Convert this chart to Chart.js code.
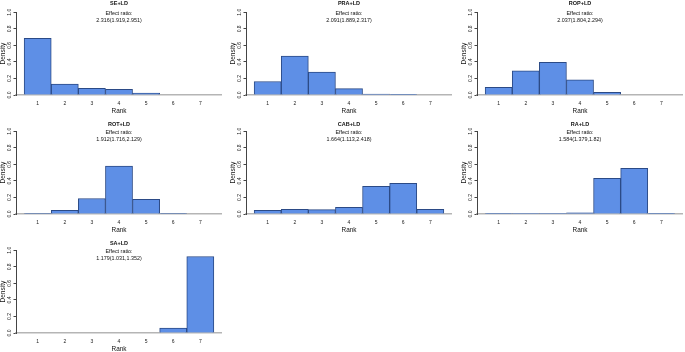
<!DOCTYPE html>
<html>
<head>
<meta charset="utf-8">
<script src="https://cdn.jsdelivr.net/npm/chart.js@4.4.1/dist/chart.umd.min.js"></script>
<style>
  html, body { margin: 0; padding: 0; background: #fff; }
  body { width: 685px; height: 352px; overflow: hidden; position: relative; }
  canvas { position: absolute; }
</style>
</head>
<body>
<script>
// ranks on the x axis and y tick values
const ranks = [1, 2, 3, 4, 5, 6, 7];
const densityTicks = [0, 0.2, 0.4, 0.6, 0.8, 1.0];

const panelNames = ['SE+LD', 'PRA+LD', 'ROP+LD', 'ROT+LD', 'CAB+LD', 'RA+LD', 'SA+LD'];
const effectRatios = [
    '2.316(1.919,2.951)',
    '2.091(1.889,2.317)',
    '2.037(1.804,2.294)',
    '1.912(1.716,2.129)',
    '1.664(1.113,2.418)',
    '1.584(1.379,1.82)',
    '1.179(1.031,1.352)'
];

// density of each rank
const seDensity  = [0.685, 0.133, 0.081, 0.069, 0.024, 0, 0];
const praDensity = [0.163, 0.470, 0.276, 0.077, 0.012, 0.002, 0];
const ropDensity = [0.094, 0.291, 0.396, 0.182, 0.032, 0, 0];
const rotDensity = [0.007, 0.043, 0.187, 0.578, 0.178, 0.007, 0];
const cabDensity = [0.045, 0.057, 0.053, 0.081, 0.336, 0.372, 0.057];
const raDensity  = [0.002, 0.001, 0.001, 0.014, 0.430, 0.552, 0.002];
const saDensity  = [0, 0, 0, 0, 0, 0.058, 0.925];

const allDensity = [seDensity, praDensity, ropDensity, rotDensity, cabDensity, raDensity, saDensity];

const colLeft = [0, 230, 461];
const rowTop = [0, 119, 238];
const font = '"Liberation Sans", Arial, sans-serif';

const effectText = {
    id: 'effectText',
    afterDraw(chart, args, opts) {
        const { ctx, chartArea } = chart;
        const cx = (chartArea.left + chartArea.right) / 2;
        ctx.save();
        ctx.fillStyle = '#111';
        ctx.textAlign = 'center';
        ctx.textBaseline = 'middle';
        ctx.font = '5.4px ' + font;
        ctx.fillText('Effect ratio:', cx, chartArea.top + 1.6);
        ctx.fillText(opts.value, cx, chartArea.top + 8.4);
        ctx.restore();
    }
};

panelNames.forEach((name, i) => {
    const row = Math.floor(i / 3);
    const col = i % 3;
    const canvas = document.createElement('canvas');
    canvas.width = 222;
    canvas.height = 119;
    canvas.style.left = colLeft[col] + 'px';
    canvas.style.top = rowTop[row] + 'px';
    document.body.appendChild(canvas);

    const titleTop = row === 0 ? 0.6 : 2.9;

    new Chart(canvas.getContext('2d'), {
        type: 'bar',
        data: {
            datasets: [{
                data: ranks.map((r, k) => ({ x: r, y: allDensity[i][k] })),
                backgroundColor: '#5e8fe6',
                borderColor: '#2b4a86',
                borderWidth: 1,
                barPercentage: 1,
                categoryPercentage: 1
            }]
        },
        options: {
            responsive: false,
            animation: false,
            layout: { padding: 0 },
            plugins: {
                legend: { display: false },
                tooltip: { enabled: false },
                title: {
                    display: true,
                    text: name,
                    fullSize: false,
                    color: '#111',
                    font: { family: font, size: 5.5, weight: 'bold', lineHeight: 1 },
                    padding: { top: titleTop, bottom: 12.3 - 5.5 - titleTop }
                },
                effectText: { value: effectRatios[i] }
            },
            scales: {
                x: {
                    type: 'linear',
                    offset: false,
                    min: 0.2,
                    max: 7.8,
                    afterBuildTicks: s => { s.ticks = ranks.map(v => ({ value: v })); },
                    afterFit: s => { s.height = 24; },
                    grid: { display: false, drawTicks: false },
                    border: { display: true, color: '#b5b5b5', width: 1.5 },
                    ticks: {
                        color: '#222',
                        padding: 6,
                        font: { family: font, size: 5 }
                    },
                    title: {
                        display: true,
                        text: 'Rank',
                        color: '#111',
                        font: { family: font, size: 6.4, lineHeight: 1 },
                        padding: { top: 0, bottom: 5 }
                    }
                },
                y: {
                    min: 0,
                    max: 1,
                    afterBuildTicks: s => { s.ticks = densityTicks.map(v => ({ value: v })); },
                    afterFit: s => { s.width = 16; },
                    grid: {
                        display: true,
                        drawOnChartArea: false,
                        drawTicks: true,
                        tickLength: 2.5,
                        color: '#444'
                    },
                    border: { display: true, color: '#444', width: 1 },
                    ticks: {
                        color: '#222',
                        padding: 0,
                        minRotation: 90,
                        maxRotation: 90,
                        crossAlign: 'center',
                        font: { family: font, size: 5 },
                        callback: v => v.toFixed(1)
                    },
                    title: {
                        display: true,
                        text: 'Density',
                        color: '#111',
                        font: { family: font, size: 6.5, lineHeight: 1 },
                        padding: 0
                    }
                }
            }
        },
        plugins: [effectText]
    });
});
</script>
</body>
</html>
